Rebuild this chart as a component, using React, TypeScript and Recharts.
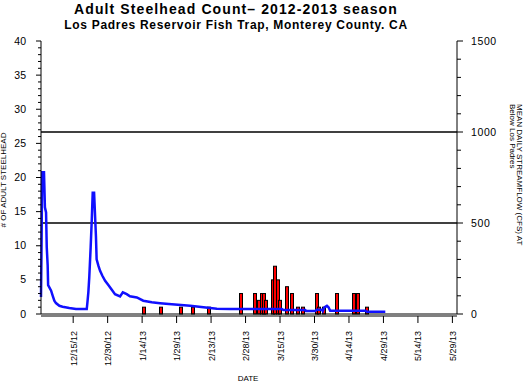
import { ComposedChart, Bar, Line, XAxis, YAxis, ReferenceLine } from 'recharts'

// day numbers count from 12/1/2012
const fishDays = [45, 52, 61, 66, 73, 87, 93, 95, 96, 97, 98, 101, 102, 103, 104, 107, 109, 112, 114, 120, 121, 123, 129, 136, 138, 142]
const fishCounts = [1, 1, 1, 1, 1, 3, 3, 2, 3, 3, 2, 5, 7, 5, 2, 4, 3, 1, 1, 3, 1, 1, 3, 3, 3, 1]

const flowDays = [
  0, 0.2, 0.5, 1.3, 1.7, 2.2, 2.5, 2.9, 3.1, 4.4, 5.1, 5.8, 6.5, 8, 9.4, 12.3, 15.2, 19.9,
  20.2, 20.6, 21, 21.6, 22.1, 22.5, 23.1, 23.5, 23.9, 24.2, 25, 25.7, 26.7, 27.9, 29.3, 30.8,
  32.2, 34.4, 35.6, 37.3, 38.7, 41.7, 44.5, 48.2, 51.8, 56.9, 64.9, 70.7, 76.5, 82.3, 104.8,
  105.5, 115, 115.3, 119.3, 120, 122.2, 122.6, 123.3, 124.4, 125.1, 125.8, 141, 141.8, 149.8,
]
const flowCfs = [
  93, 328, 779, 779, 586, 558, 367, 268, 159, 128, 100, 73, 60, 45, 40, 33, 27, 27,
  64, 119, 201, 365, 520, 666, 666, 547, 429, 301, 264, 237, 210, 182, 159, 133,
  109, 97, 119, 109, 97, 91, 73, 64, 59, 53, 45, 37, 29, 27, 27,
  22, 22, 16, 16, 24, 24, 16, 37, 45, 37, 18, 18, 13, 13,
]

const xTickDays = [14, 29, 44, 59, 74, 89, 104, 119, 134, 149, 164, 179]
const xTickLabels = ['12/15/12', '12/30/12', '1/14/13', '1/29/13', '2/13/13', '2/28/13', '3/15/13', '3/30/13', '4/14/13', '4/29/13', '5/14/13', '5/29/13']

const countTicks = Array.from({ length: 41 }, (_, i) => i)
const countLabels = [0, 5, 10, 15, 20, 25, 30, 35, 40]
const flowTicks = [0, 100, 200, 300, 400, 500, 600, 700, 800, 900, 1000, 1100, 1200, 1300, 1400, 1500]
const flowLabels = [0, 500, 1000, 1500]

const rows: { day: number; flow?: number; fish?: number }[] = [
  ...flowDays.map((d, i) => ({ day: d, flow: flowCfs[i] })),
  ...fishDays.map((d, i) => ({ day: d, fish: fishCounts[i] })),
].sort((a, b) => a.day - b.day)

const font = 'Liberation Sans, Arial, sans-serif'

function LeftTick(props: any) {
  const { x, y, payload } = props
  const major = countLabels.includes(payload.value)
  return (
    <g>
      <line x1={x - (major ? 5 : 3)} x2={x} y1={y} y2={y} stroke="#000" />
      {major && (
        <text x={x - 15} y={y} dy={3.5} textAnchor="end" fontSize={10.5} fill="#000" fontFamily={font}>
          {payload.value}
        </text>
      )}
    </g>
  )
}

function RightTick(props: any) {
  const { x, y, payload } = props
  const major = flowLabels.includes(payload.value)
  return (
    <g>
      <line x1={x} x2={x + (major ? 6 : 4)} y1={y} y2={y} stroke="#000" />
      {major && (
        <text x={x + 14} y={y} dy={3.5} textAnchor="start" fontSize={10.5} letterSpacing={0.6} fill="#000" fontFamily={font}>
          {payload.value}
        </text>
      )}
    </g>
  )
}

function DateTick(props: any) {
  const { x, y, payload } = props
  const label = xTickLabels[xTickDays.indexOf(payload.value)]
  return (
    <g>
      <line x1={x} x2={x} y1={y + 2} y2={y + 9} stroke="#000" />
      <text
        x={x}
        y={y + 17}
        dy={3.5}
        textAnchor="end"
        fontSize={9}
        fill="#000"
        fontFamily={font}
        transform={`rotate(-90 ${x} ${y + 17})`}
      >
        {label}
      </text>
    </g>
  )
}

// draw each daily bar 3px wide, centred on its date
function FishBar(props: any) {
  const { x, y, width, height } = props
  if (!height) return null
  const cx = Math.round(x + width / 2)
  return <rect x={cx - 1.5} y={y} width={3} height={height} fill="#ff0000" stroke="#000" strokeWidth={1} />
}

export default function App() {
  return (
    <div style={{ position: 'absolute', left: 0, top: 0, width: 525, height: 384, background: '#fff' }}>
      <ComposedChart
        width={525}
        height={384}
        data={rows}
        margin={{ top: 41, right: 28, bottom: 20, left: 6 }}
      >
        <XAxis
          dataKey="day"
          type="number"
          domain={[0, 181]}
          ticks={xTickDays}
          interval={0}
          height={50}
          tickSize={0}
          tickMargin={0}
          axisLine={{ stroke: '#000', transform: 'translate(0,2)' }}
          tickLine={false}
          tick={<DateTick />}
        />
        <YAxis
          yAxisId="left"
          domain={[0, 40]}
          ticks={countTicks}
          interval={0}
          width={35}
          tickSize={0}
          tickMargin={0}
          axisLine={{ stroke: '#000' }}
          tickLine={false}
          tick={<LeftTick />}
        />
        <YAxis
          yAxisId="right"
          orientation="right"
          domain={[0, 1500]}
          ticks={flowTicks}
          interval={0}
          width={40}
          tickSize={0}
          tickMargin={0}
          axisLine={{ stroke: '#000' }}
          tickLine={false}
          tick={<RightTick />}
        />
        <ReferenceLine yAxisId="right" y={1000} stroke="#000" strokeWidth={1.5} />
        <ReferenceLine yAxisId="right" y={500} stroke="#000" strokeWidth={1.5} />
        <ReferenceLine yAxisId="left" y={0} stroke="#000" strokeWidth={1} />
        <Bar
          yAxisId="left"
          dataKey="fish"
          fill="#ff0000"
          shape={<FishBar />}
          isAnimationActive={false}
        />
        <Line
          yAxisId="right"
          dataKey="flow"
          type="linear"
          stroke="#1010ff"
          strokeWidth={2.5}
          dot={false}
          connectNulls
          isAnimationActive={false}
        />
      </ComposedChart>
      <svg
        width={525}
        height={384}
        style={{ position: 'absolute', left: 0, top: 0, pointerEvents: 'none' }}
        fontFamily={font}
      >
        <text x={236} y={14} textAnchor="middle" fontSize={14} fontWeight="bold" letterSpacing={1.1} fill="#000">
          Adult Steelhead Count– 2012-2013 season
        </text>
        <text x={236} y={29} textAnchor="middle" fontSize={12} fontWeight="bold" letterSpacing={0.7} fill="#000">
          Los Padres Reservoir Fish Trap, Monterey County. CA
        </text>
        <text x={6} y={180} textAnchor="middle" fontSize={8} fill="#000" transform="rotate(-90 6 180)">
          # OF ADULT STEELHEAD
        </text>
        <text x={517} y={104} textAnchor="start" fontSize={8} fill="#000" transform="rotate(90 517 104)">
          MEAN DAILY STREAMFLOW (CFS) AT
        </text>
        <text x={510} y={104} textAnchor="start" fontSize={8} fill="#000" transform="rotate(90 510 104)">
          Below Los Padres
        </text>
        <text x={248} y={381} textAnchor="middle" fontSize={8} fill="#000">
          DATE
        </text>
      </svg>
    </div>
  )
}
